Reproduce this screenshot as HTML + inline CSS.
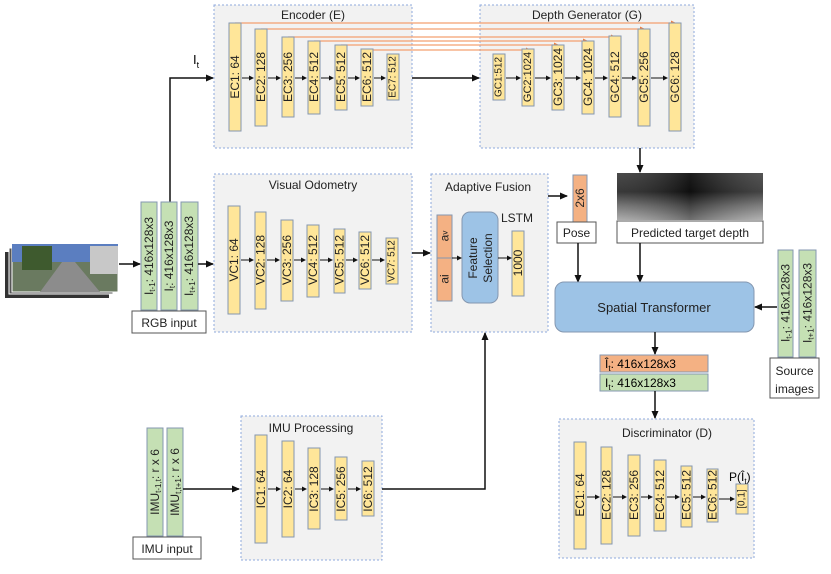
<!DOCTYPE html>
<html><head><meta charset="utf-8"><style>
html,body{margin:0;padding:0;background:#fff;}
svg{display:block;font-family:"Liberation Sans","DejaVu Sans",sans-serif;}
.box{fill:#f2f2f2;stroke:#8faadc;stroke-width:1;stroke-dasharray:2,2;}
.y{fill:#ffe699;stroke:#8497b0;stroke-width:1;}
.g{fill:#c5e0b4;stroke:#8497b0;stroke-width:1;}
.o{fill:#f4b183;stroke:#8497b0;stroke-width:1;}
.w{fill:#fff;stroke:#555;stroke-width:1;}
.bt{font-size:12px;fill:#222;text-anchor:middle;dominant-baseline:central;}
.tt{font-size:12px;fill:#222;text-anchor:middle;}
.ln{stroke:#111;stroke-width:1.5;fill:none;}
.sm{stroke:#111;stroke-width:1;fill:none;}
.sk{stroke:#f4a070;stroke-width:1.2;fill:none;}
</style></head><body>
<svg width="831" height="574" viewBox="0 0 831 574" xmlns="http://www.w3.org/2000/svg">
<defs>
<marker id="a" markerWidth="8" markerHeight="8" refX="7" refY="4" orient="auto" markerUnits="userSpaceOnUse"><path d="M0,0.5 L8,4 L0,7.5z" fill="#111"/></marker>
<marker id="s" markerWidth="5" markerHeight="5" refX="4" refY="2.5" orient="auto" markerUnits="userSpaceOnUse"><path d="M0,0 L5,2.5 L0,5z" fill="#111"/></marker>
<marker id="so" markerWidth="5" markerHeight="5" refX="4" refY="2.5" orient="auto" markerUnits="userSpaceOnUse"><path d="M0,0 L5,2.5 L0,5z" fill="#f08040"/></marker>
<linearGradient id="dep" x1="0" y1="0" x2="0" y2="1"><stop offset="0" stop-color="#2a2a2a"/><stop offset="0.4" stop-color="#151515"/><stop offset="0.7" stop-color="#606060"/><stop offset="1" stop-color="#a0a0a0"/></linearGradient>
<linearGradient id="dep2" x1="0" y1="0" x2="1" y2="0"><stop offset="0" stop-color="#fff" stop-opacity="0.15"/><stop offset="0.5" stop-color="#000" stop-opacity="0.3"/><stop offset="1" stop-color="#fff" stop-opacity="0.2"/></linearGradient>
</defs>

<rect class="box" x="214" y="5" width="198" height="143"/>
<text class="tt" x="313" y="19">Encoder (E)</text>
<rect class="box" x="480" y="5" width="214" height="143"/>
<text class="tt" x="587" y="19">Depth Generator (G)</text>

<path class="sk" d="M235,23 H675" marker-end="url(#so)"/>
<path class="sk" d="M261,29 H644" marker-end="url(#so)"/>
<path class="sk" d="M288,37 H615" marker-end="url(#so)"/>
<path class="sk" d="M314,41 H587" marker-end="url(#so)"/>
<path class="sk" d="M341,45 H558" marker-end="url(#so)"/>
<path class="sk" d="M367,50 H530" marker-end="url(#so)"/>

<rect class="y" x="229" y="23" width="12" height="108"/><text class="bt" transform="translate(235,77) rotate(-90)">EC1: 64</text>
<rect class="y" x="255" y="29" width="12" height="97"/><text class="bt" transform="translate(261,77) rotate(-90)">EC2: 128</text>
<rect class="y" x="282" y="37" width="12" height="80"/><text class="bt" transform="translate(288,77) rotate(-90)">EC3: 256</text>
<rect class="y" x="308" y="41" width="12" height="73"/><text class="bt" transform="translate(314,77) rotate(-90)">EC4: 512</text>
<rect class="y" x="335" y="45" width="12" height="65"/><text class="bt" transform="translate(341,77) rotate(-90)">EC5: 512</text>
<rect class="y" x="361" y="49" width="12" height="57"/><text class="bt" transform="translate(367,77) rotate(-90)">EC6: 512</text>
<rect class="y" x="387" y="54" width="12" height="46"/><text class="bt" style="font-size:10px" transform="translate(393,77) rotate(-90)">EC7: 512</text>
<path class="sm" d="M242,78H253" marker-end="url(#s)"/><path class="sm" d="M268,78H280" marker-end="url(#s)"/><path class="sm" d="M295,78H306" marker-end="url(#s)"/><path class="sm" d="M321,78H333" marker-end="url(#s)"/><path class="sm" d="M348,78H359" marker-end="url(#s)"/><path class="sm" d="M374,78H385" marker-end="url(#s)"/>
<path class="ln" d="M412,78H479" marker-end="url(#a)"/>

<rect class="y" x="493" y="54" width="12" height="46"/><text class="bt" style="font-size:10px" transform="translate(499,77) rotate(-90)">GC1:512</text>
<rect class="y" x="522" y="49" width="12" height="57"/><text class="bt" style="font-size:11px" transform="translate(528,77) rotate(-90)">GC2:1024</text>
<rect class="y" x="552" y="45" width="12" height="65"/><text class="bt" transform="translate(558,77) rotate(-90)">GC3: 1024</text>
<rect class="y" x="582" y="41" width="12" height="73"/><text class="bt" transform="translate(588,77) rotate(-90)">GC4: 1024</text>
<rect class="y" x="609" y="36" width="12" height="81"/><text class="bt" transform="translate(615,77) rotate(-90)">GC4: 512</text>
<rect class="y" x="638" y="29" width="12" height="97"/><text class="bt" transform="translate(644,77) rotate(-90)">GC5: 256</text>
<rect class="y" x="669" y="23" width="12" height="108"/><text class="bt" transform="translate(675,77) rotate(-90)">GC6: 128</text>
<path class="sm" d="M506,78H520" marker-end="url(#s)"/><path class="sm" d="M535,78H550" marker-end="url(#s)"/><path class="sm" d="M565,78H580" marker-end="url(#s)"/><path class="sm" d="M595,78H607" marker-end="url(#s)"/><path class="sm" d="M622,78H636" marker-end="url(#s)"/><path class="sm" d="M651,78H667" marker-end="url(#s)"/>

<path class="ln" d="M170,202V78H213" marker-end="url(#a)"/>
<text x="193" y="64" style="font-size:13px">I<tspan dy="4" font-size="9">t</tspan></text>

<rect x="5" y="252" width="104" height="46" fill="#333"/>
<rect x="9" y="248" width="104" height="46" fill="#555" stroke="#fff" stroke-width="1"/>
<rect x="12" y="244" width="106" height="48" fill="#6a7a60" stroke="#fff" stroke-width="1"/>
<rect x="12" y="244" width="106" height="18" fill="#5b7ec0"/>
<rect x="22" y="246" width="30" height="24" fill="#3e5a2e"/>
<rect x="90" y="246" width="28" height="28" fill="#c8c8c8"/>
<polygon points="40,292 100,292 75,262 62,262" fill="#8c8c8c"/>
<path class="ln" d="M119,264H140" marker-end="url(#a)"/>

<rect class="g" x="141" y="202" width="16" height="108"/><text class="bt" style="font-size:12px" transform="translate(149,256) rotate(-90)">I<tspan font-size="8" dy="3">t-1</tspan><tspan dy="-3">: 416x128x3</tspan></text>
<rect class="g" x="161" y="202" width="16" height="108"/><text class="bt" style="font-size:12px" transform="translate(169,256) rotate(-90)">I<tspan font-size="8" dy="3">t</tspan><tspan dy="-3">: 416x128x3</tspan></text>
<rect class="g" x="181" y="202" width="17" height="108"/><text class="bt" style="font-size:12px" transform="translate(189,256) rotate(-90)">I<tspan font-size="8" dy="3">t+1</tspan><tspan dy="-3">: 416x128x3</tspan></text>
<rect class="w" x="132" y="311" width="74" height="22"/><text class="tt" x="169" y="327">RGB input</text>
<path class="ln" d="M198,264H213" marker-end="url(#a)"/>

<rect class="box" x="214" y="174" width="198" height="158"/>
<text class="tt" x="313" y="189">Visual Odometry</text>
<rect class="y" x="228" y="206" width="12" height="108"/><text class="bt" transform="translate(234,260) rotate(-90)">VC1: 64</text>
<rect class="y" x="255" y="212" width="11" height="97"/><text class="bt" transform="translate(260.5,260) rotate(-90)">VC2: 128</text>
<rect class="y" x="281" y="220" width="12" height="81"/><text class="bt" transform="translate(287,260) rotate(-90)">VC3: 256</text>
<rect class="y" x="307" y="225" width="12" height="72"/><text class="bt" transform="translate(313,260) rotate(-90)">VC4: 512</text>
<rect class="y" x="334" y="229" width="11" height="64"/><text class="bt" transform="translate(339.5,260) rotate(-90)">VC5: 512</text>
<rect class="y" x="359" y="232" width="12" height="57"/><text class="bt" transform="translate(365,260) rotate(-90)">VC6: 512</text>
<rect class="y" x="386" y="238" width="12" height="46"/><text class="bt" style="font-size:10px" transform="translate(392,261) rotate(-90)">VC7: 512</text>
<path class="sm" d="M241,260H253" marker-end="url(#s)"/><path class="sm" d="M267,260H279" marker-end="url(#s)"/><path class="sm" d="M294,260H305" marker-end="url(#s)"/><path class="sm" d="M320,260H332" marker-end="url(#s)"/><path class="sm" d="M346,260H357" marker-end="url(#s)"/><path class="sm" d="M372,260H384" marker-end="url(#s)"/>
<path class="ln" d="M412,253H430" marker-end="url(#a)"/>

<rect class="box" x="431" y="174" width="117" height="158"/>
<text class="tt" x="488" y="191">Adaptive Fusion</text>
<rect class="o" x="437" y="215" width="15" height="43"/><text class="bt" transform="translate(444.5,236) rotate(-90)">a<tspan font-size="8">v</tspan></text>
<rect class="o" x="437" y="258" width="15" height="43"/><text class="bt" transform="translate(444.5,279) rotate(-90)">ai</text>
<rect x="462" y="212" width="36" height="91" rx="8" fill="#9dc3e6" stroke="#8497b0"/>
<text class="bt" style="font-size:12px" transform="translate(473,258) rotate(-90)">Feature</text>
<text class="bt" style="font-size:12px" transform="translate(488,258) rotate(-90)">Selection</text>
<text x="517" y="222" class="tt">LSTM</text>
<rect class="y" x="512" y="231" width="12" height="65"/><text class="bt" transform="translate(518,263) rotate(-90)">1000</text>
<path class="sm" d="M452,258H461" marker-end="url(#s)"/><path class="sm" d="M498,258H511" marker-end="url(#s)"/>

<path class="ln" d="M548,196H567" marker-end="url(#a)"/>
<rect class="o" x="573" y="175" width="14" height="47"/><text class="bt" transform="translate(580,198) rotate(-90)">2x6</text>
<rect class="w" x="557" y="222" width="39" height="21"/><text class="tt" x="576.5" y="237">Pose</text>

<path class="ln" d="M640,148V172" marker-end="url(#a)"/>
<rect x="617" y="173" width="146" height="47" fill="url(#dep)"/>
<rect x="617" y="173" width="146" height="47" fill="url(#dep2)"/>
<rect class="w" x="617" y="221" width="146" height="22"/><text class="tt" x="690" y="237">Predicted target depth</text>
<path class="ln" d="M578,243V282" marker-end="url(#a)"/>
<path class="ln" d="M640,243V282" marker-end="url(#a)"/>

<rect x="555" y="282" width="199" height="50" rx="9" fill="#9dc3e6" stroke="#8497b0"/>
<text class="tt" x="654" y="312" style="font-size:13px">Spatial Transformer</text>

<rect class="g" x="778" y="250" width="15" height="107"/><text class="bt" style="font-size:12px" transform="translate(785.5,303) rotate(-90)">I<tspan font-size="8" dy="3">t-1</tspan><tspan dy="-3">: 416x128x3</tspan></text>
<rect class="g" x="799" y="250" width="17" height="107"/><text class="bt" style="font-size:12px" transform="translate(807.5,303) rotate(-90)">I<tspan font-size="8" dy="3">t+1</tspan><tspan dy="-3">: 416x128x3</tspan></text>
<rect class="w" x="770" y="358" width="49" height="40"/><text class="tt" x="794.5" y="375">Source</text><text class="tt" x="794.5" y="393">images</text>
<path class="ln" d="M777,307H755" marker-end="url(#a)"/>

<path class="ln" d="M655,332V354" marker-end="url(#a)"/>
<rect class="o" x="600" y="355" width="108" height="17"/><text x="605" y="368" style="font-size:12px">Î<tspan font-size="8" dy="3">t</tspan><tspan dy="-3">: 416x128x3</tspan></text>
<rect class="g" x="600" y="374" width="108" height="17"/><text x="605" y="387" style="font-size:12px">I<tspan font-size="8" dy="3">t</tspan><tspan dy="-3">: 416x128x3</tspan></text>
<path class="ln" d="M655,391V418" marker-end="url(#a)"/>

<rect class="box" x="559" y="419" width="195" height="139"/>
<text class="tt" x="667" y="437">Discriminator (D)</text>
<rect class="y" x="574" y="442" width="12" height="107"/><text class="bt" transform="translate(580,495) rotate(-90)">EC1: 64</text>
<rect class="y" x="601" y="447" width="11" height="97"/><text class="bt" transform="translate(606.5,495) rotate(-90)">EC2: 128</text>
<rect class="y" x="628" y="455" width="12" height="81"/><text class="bt" transform="translate(634,495) rotate(-90)">EC3: 256</text>
<rect class="y" x="654" y="460" width="12" height="71"/><text class="bt" transform="translate(660,495) rotate(-90)">EC4: 512</text>
<rect class="y" x="681" y="466" width="11" height="61"/><text class="bt" transform="translate(686.5,495) rotate(-90)">EC5: 512</text>
<rect class="y" x="707" y="469" width="11" height="53"/><text class="bt" transform="translate(712.5,495) rotate(-90)">EC6: 512</text>
<rect class="y" x="736" y="484" width="12" height="30"/><text class="bt" style="font-size:10px" transform="translate(742,499) rotate(-90)">[0,1]</text>
<text x="729" y="481" style="font-size:12px">P(Î<tspan font-size="8" dy="3">t</tspan><tspan dy="-3">)</tspan></text>
<path class="sm" d="M587,497H599" marker-end="url(#s)"/><path class="sm" d="M613,497H626" marker-end="url(#s)"/><path class="sm" d="M641,497H652" marker-end="url(#s)"/><path class="sm" d="M667,497H679" marker-end="url(#s)"/><path class="sm" d="M693,497H705" marker-end="url(#s)"/><path class="sm" d="M719,499H734" marker-end="url(#s)"/>

<rect class="g" x="147" y="428" width="16" height="108"/><text class="bt" style="font-size:12px" transform="translate(155,482) rotate(-90)">IMU<tspan font-size="8" dy="3">t-1,t</tspan><tspan dy="-3">: r x 6</tspan></text>
<rect class="g" x="167" y="428" width="16" height="108"/><text class="bt" style="font-size:12px" transform="translate(175,482) rotate(-90)">IMU<tspan font-size="8" dy="3">t,t+1</tspan><tspan dy="-3">: r x 6</tspan></text>
<rect class="w" x="133" y="537" width="68" height="22"/><text class="tt" x="167" y="553">IMU input</text>
<path class="ln" d="M183,489H239" marker-end="url(#a)"/>

<rect class="box" x="241" y="416" width="141" height="144"/>
<text class="tt" x="311" y="432">IMU Processing</text>
<rect class="y" x="255" y="435" width="12" height="108"/><text class="bt" transform="translate(261,489) rotate(-90)">IC1: 64</text>
<rect class="y" x="282" y="441" width="12" height="96"/><text class="bt" transform="translate(288,489) rotate(-90)">IC2: 64</text>
<rect class="y" x="308" y="448" width="12" height="81"/><text class="bt" transform="translate(314,489) rotate(-90)">IC3: 128</text>
<rect class="y" x="335" y="457" width="12" height="63"/><text class="bt" transform="translate(341,489) rotate(-90)">IC5: 256</text>
<rect class="y" x="362" y="461" width="12" height="55"/><text class="bt" transform="translate(368,489) rotate(-90)">IC6: 512</text>
<path class="sm" d="M268,489H280" marker-end="url(#s)"/><path class="sm" d="M295,489H306" marker-end="url(#s)"/><path class="sm" d="M321,489H333" marker-end="url(#s)"/><path class="sm" d="M348,489H360" marker-end="url(#s)"/>
<path class="ln" d="M382,489H485V333" marker-end="url(#a)"/>
</svg>
</body></html>
